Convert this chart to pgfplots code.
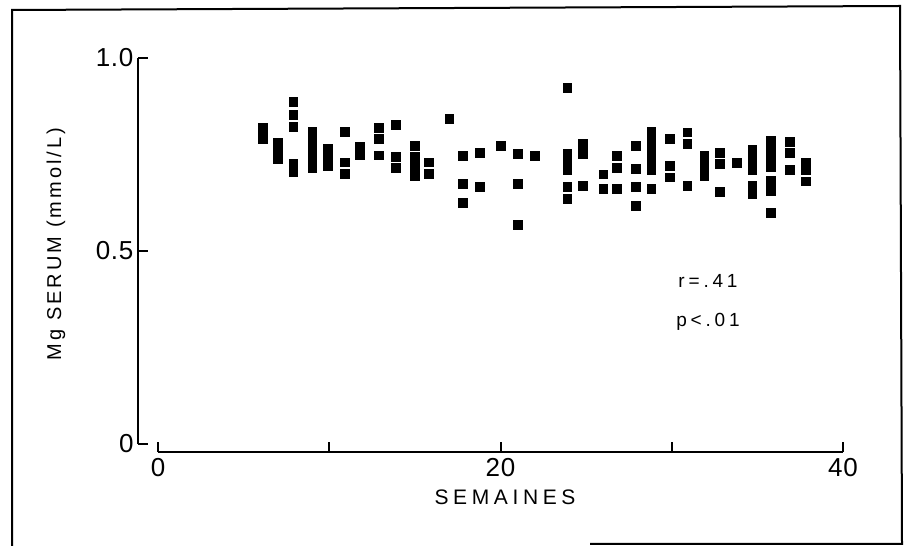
\documentclass[border=0pt]{standalone}
\usepackage{pgfplots}
\pgfplotsset{compat=1.18}
\usepackage{fontspec}
\setmainfont{Liberation Sans}
\newfontfamily\tickf[LetterSpace=3]{Liberation Sans}
\newfontfamily\labf[LetterSpace=15]{Liberation Sans}
\newfontfamily\semf[LetterSpace=22]{Liberation Sans}
\newfontfamily\annf[LetterSpace=20]{Liberation Sans}
\begin{document}
\begin{tikzpicture}
\useasboundingbox (0bp,0bp) rectangle (904bp,546bp);
\draw[line width=2bp] (12bp,0bp) -- (12bp,536bp) -- (900bp,540bp) -- (902bp,2bp) -- (590bp,2bp);
\begin{axis}[at={(138bp,94bp)}, anchor=south west, scale only axis,
  width=705bp, height=394bp,
  xmin=-1.168, xmax=40, ymin=-0.0207, ymax=1.0,
  axis line style={draw=none},
  xtick={0,10,20,30,40}, xticklabels={0,{},20,{},40},
  ytick={0,0.5,1}, yticklabels={0,0.5,1.0},
  xtick pos=bottom, ytick pos=left, tick align=inside, major tick length=10bp,
  every tick/.style={black, line width=2bp},
  xticklabel style={font=\tickf\fontsize{26bp}{26bp}\selectfont, anchor=north, yshift=-3bp},
  yticklabel style={font=\tickf\fontsize{26bp}{26bp}\selectfont, anchor=east, xshift=-1bp},
  clip=false]
\draw[line width=2.2bp, black] (axis cs:-1.168,0) -- (axis cs:-1.168,1);
\draw[line width=2.2bp, black] (axis cs:0,-0.0207) -- (axis cs:40,-0.0207);
\addplot[only marks, mark=square*, mark size=4.4bp,
  mark options={fill=black, draw=black, line width=0.4bp}] coordinates {
(6.1,0.82) (6.1,0.80) (6.1,0.79)
(7.0,0.78) (7.0,0.76) (7.0,0.74)
(7.9,0.887) (7.9,0.853) (7.9,0.823) (7.9,0.727) (7.9,0.706)
(9.0,0.81) (9.0,0.79) (9.0,0.77) (9.0,0.75) (9.0,0.73) (9.0,0.716)
(9.9,0.766) (9.9,0.74) (9.9,0.72)
(10.9,0.81) (10.9,0.73) (10.9,0.70)
(11.8,0.77) (11.8,0.75)
(12.9,0.82) (12.9,0.79) (12.9,0.748)
(13.9,0.827) (13.9,0.745) (13.9,0.716)
(15.0,0.773) (15.0,0.745) (15.0,0.72) (15.0,0.695)
(15.8,0.73) (15.8,0.70)
(17.0,0.843)
(17.8,0.747) (17.8,0.675) (17.8,0.626)
(18.8,0.754) (18.8,0.667)
(20.0,0.773)
(21.0,0.753) (21.0,0.675) (21.0,0.569)
(22.0,0.747)
(23.9,0.924) (23.9,0.753) (23.9,0.732) (23.9,0.711) (23.9,0.667) (23.9,0.636)
(24.8,0.779) (24.8,0.753) (24.8,0.67)
(26.0,0.699) (26.0,0.662)
(26.8,0.746) (26.8,0.716) (26.8,0.661)
(27.9,0.773) (27.9,0.714) (27.9,0.667) (27.9,0.618)
(28.8,0.81) (28.8,0.79) (28.8,0.77) (28.8,0.75) (28.8,0.73) (28.8,0.71) (28.8,0.661)
(29.9,0.791) (29.9,0.72) (29.9,0.691)
(30.9,0.808) (30.9,0.778) (30.9,0.669)
(31.9,0.747) (31.9,0.721) (31.9,0.695)
(32.8,0.755) (32.8,0.727) (32.8,0.654)
(33.8,0.729)
(34.7,0.763) (34.7,0.737) (34.7,0.711) (34.7,0.669) (34.7,0.648)
(35.8,0.786) (35.8,0.763) (35.8,0.742) (35.8,0.719) (35.8,0.682) (35.8,0.656) (35.8,0.599)
(36.9,0.784) (36.9,0.755) (36.9,0.711)
(37.8,0.729) (37.8,0.711) (37.8,0.681)
};
\end{axis}
\node[font=\semf\fontsize{21bp}{21bp}\selectfont] at (505bp,49bp) {SEMAINES};
\node[rotate=90, font=\labf\fontsize{20bp}{20bp}\selectfont] at (56bp,302bp) {Mg SERUM (mmol/L)};
\node[anchor=base, font=\annf\fontsize{19bp}{19bp}\selectfont] at (708bp,258bp) {r=.41};
\node[anchor=base, font=\annf\fontsize{19bp}{19bp}\selectfont] at (708bp,219bp) {p<.01};
\end{tikzpicture}
\end{document}
